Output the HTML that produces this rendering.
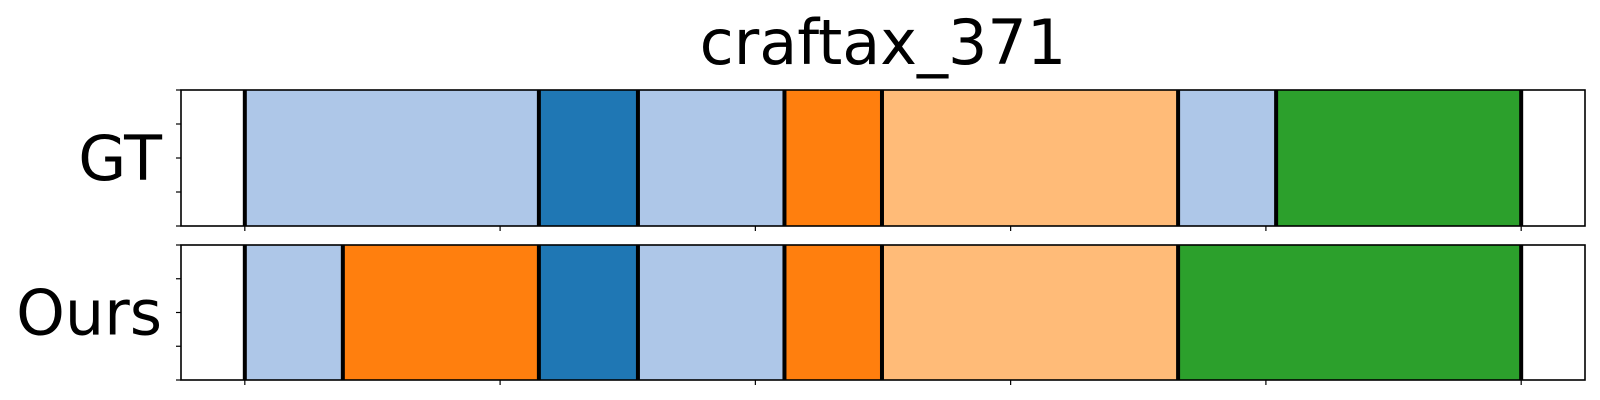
<!DOCTYPE html>
<html><head><meta charset="utf-8"><style>
html,body{margin:0;padding:0;background:#fff;}
svg{display:block;font-family:"DejaVu Sans","Liberation Sans",sans-serif;}
</style></head><body>
<svg id="chart" width="1600" height="400" viewBox="0 0 1600 400" xmlns="http://www.w3.org/2000/svg">
<text x="883" y="64" font-size="62" text-anchor="middle">craftax_371</text>
</svg>
<script>
const xTicks = [0, 50, 100, 150, 200, 250];
const gtBoundaries = [0, 57.6, 77, 105.7, 124.8, 182.8, 202, 250];
const gtLabels = ['lightblue', 'blue', 'lightblue', 'orange', 'lightorange', 'lightblue', 'green'];
const oursBoundaries = [0, 19.2, 57.6, 77, 105.7, 124.8, 182.8, 250];
const oursLabels = ['lightblue', 'orange', 'blue', 'lightblue', 'orange', 'lightorange', 'green'];
const rowNames = ['GT', 'Ours'];
const yTicks = [0, 0.25, 0.5, 0.75, 1];

const colors = {lightblue:'#aec7e8', blue:'#1f77b4', orange:'#ff7f0e', lightorange:'#ffbb78', green:'#2ca02c'};
const NS = 'http://www.w3.org/2000/svg';
const svg = document.getElementById('chart');
const axL = 181, axR = 1585, xMin = -12.5, xMax = 262.5;
const xs = v => axL + (v - xMin) / (xMax - xMin) * (axR - axL);
const panels = [{top:90, bottom:226}, {top:245, bottom:380}];
function mk(tag, attrs){const e=document.createElementNS(NS,tag);for(const k in attrs)e.setAttribute(k,attrs[k]);svg.appendChild(e);return e;}

[[gtBoundaries, gtLabels], [oursBoundaries, oursLabels]].forEach((d, pi) => {
  const p = panels[pi];
  const ys = v => p.bottom - v * (p.bottom - p.top);
  const [b, labs] = d;
  const g = document.createElementNS(NS, 'g');
  svg.appendChild(g);
  
  
  for (let i = 0; i < labs.length; i++) {
    const r = document.createElementNS(NS, 'rect');
    r.setAttribute('x', xs(b[i])); r.setAttribute('y', p.top);
    r.setAttribute('width', xs(b[i+1]) - xs(b[i])); r.setAttribute('height', p.bottom - p.top);
    r.setAttribute('fill', colors[labs[i]]);
    
    
    g.appendChild(r);
  }
  b.forEach(v => {
    const l = document.createElementNS(NS, 'line');
    l.setAttribute('x1', xs(v)); l.setAttribute('x2', xs(v));
    l.setAttribute('y1', p.top); l.setAttribute('y2', p.bottom);
    l.setAttribute('stroke', '#000'); l.setAttribute('stroke-width', 4);
    
    
    g.appendChild(l);
  });
  const frame = mk('rect', {x:axL, y:p.top, width:axR-axL, height:p.bottom-p.top, fill:'none', stroke:'#000', 'stroke-width':1.6});
  
  
  xTicks.forEach(t => {
    const l = mk('line', {x1:xs(t), x2:xs(t), y1:p.bottom, y2:p.bottom+5, stroke:'#000', 'stroke-width':1.2});
    
    
  });
  yTicks.forEach(t => {
    const l = mk('line', {x1:axL-5, x2:axL, y1:ys(t), y2:ys(t), stroke:'#000', 'stroke-width':1.2});
    
    
  });
  const lab = mk('text', {x:162, y:(p.top+p.bottom)/2 + 22, 'font-size':62, 'text-anchor':'end'});
  lab.textContent = rowNames[pi];
  
  
});
</script>
</body></html>
